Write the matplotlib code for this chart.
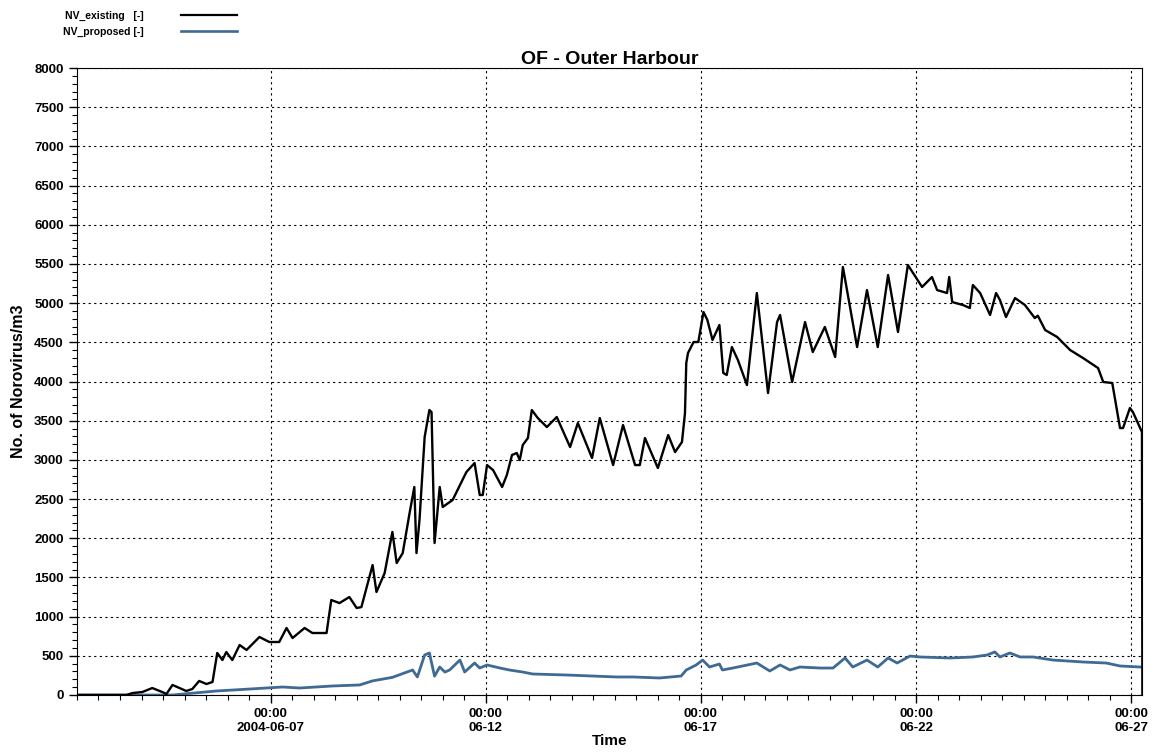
import numpy as np
import pandas as pd
import matplotlib.pyplot as plt
import matplotlib.dates as mdates
from matplotlib.ticker import MultipleLocator
from matplotlib.lines import Line2D

plt.rcParams['font.family'] = ['Liberation Sans', 'DejaVu Sans']
plt.rcParams['font.weight'] = 'bold'

start = pd.Timestamp('2004-06-02 00:00')

# days since 2004-06-02 00:00
existing_day = [0.51, 1.65, 1.79, 2.02, 2.25, 2.48, 2.58, 2.72, 3.04, 3.18, 3.34, 3.51, 3.65,
                3.76, 3.88, 3.97, 4.11, 4.28, 4.44, 4.74, 4.97, 5.20, 5.37, 5.51, 5.79, 5.97,
                6.30, 6.41, 6.60, 6.83, 7.00, 7.11, 7.37, 7.46, 7.65, 7.83, 7.93, 8.07, 8.23,
                8.34, 8.39, 8.46, 8.58, 8.69, 8.74, 8.81, 8.93, 9.00, 9.23, 9.55, 9.74, 9.86,
                9.93, 10.03, 10.17, 10.38, 10.49, 10.61, 10.72, 10.79, 10.86, 10.98, 11.07,
                11.21, 11.42, 11.65, 11.96, 12.14, 12.47, 12.65, 12.96, 13.19, 13.47, 13.58,
                13.70, 14.00, 14.24, 14.40, 14.56, 14.63, 14.66, 14.70, 14.83, 14.94, 15.06,
                15.15, 15.27, 15.43, 15.52, 15.60, 15.72, 15.86, 16.07, 16.30, 16.56, 16.77,
                16.84, 17.12, 17.42, 17.60, 17.88, 18.12, 18.30, 18.63, 18.86, 19.11, 19.35,
                19.58, 19.81, 20.14, 20.37, 20.49, 20.72, 20.77, 20.84, 21.09, 21.25, 21.32,
                21.49, 21.72, 21.86, 21.95, 22.09, 22.30, 22.53, 22.76, 22.83, 23.00, 23.28,
                23.58, 23.88, 24.23, 24.35, 24.56, 24.74, 24.81, 24.97, 25.04, 25.25, 25.26]
existing_val = [0, 0, 25, 38, 89, 38, 13, 128, 51, 76, 179, 140, 166,
                536, 446, 548, 446, 638, 574, 740, 676, 676, 855, 727, 855, 791,
                791, 1212, 1173, 1250, 1110, 1122, 1658, 1314, 1556, 2080, 1684, 1811, 2322,
                2654, 1811, 2233, 3292, 3636, 3610, 1939, 2654, 2399, 2488, 2845, 2960, 2552,
                2552, 2934, 2870, 2654, 2807, 3062, 3088, 2998, 3190, 3279, 3636,
                3534, 3419, 3547, 3164, 3470, 3024, 3534, 2934, 3445, 2934, 2934,
                3279, 2896, 3317, 3100, 3228, 3598, 4236, 4364, 4504, 4504, 4887,
                4785, 4530, 4721, 4109, 4083, 4440, 4274, 3955, 5129, 3853, 4759,
                4849, 3994, 4759, 4376, 4696, 4313, 5461, 4440, 5167, 4440, 5359,
                4632, 5487, 5206, 5333, 5167, 5129, 5333, 5014, 4976, 4938, 5231,
                5129, 4849, 5129, 5040, 4823, 5065, 4976, 4810, 4840, 4657, 4568,
                4402, 4300, 4172, 3994, 3981, 3406, 3406, 3662, 3610, 3355, 0]

proposed_day = [0.51, 2.72, 3.74, 4.51, 5.28, 5.67, 6.44, 7.07, 7.37, 7.83, 8.30, 8.41, 8.58,
                8.69, 8.81, 8.93, 9.05, 9.16, 9.40, 9.51, 9.74, 9.86, 10.03, 10.33, 10.55,
                10.86, 11.09, 11.88, 13.04, 13.42, 14.04, 14.54, 14.66, 14.89, 15.04, 15.20,
                15.43, 15.50, 15.74, 16.30, 16.60, 16.84, 17.07, 17.30, 17.77, 18.07, 18.35,
                18.53, 18.86, 19.11, 19.35, 19.56, 19.86, 20.09, 20.79, 21.32, 21.65, 21.83,
                21.95, 22.18, 22.42, 22.72, 23.18, 23.88, 24.42, 24.74, 25.21]
proposed_val = [0, 0, 51, 76, 102, 89, 115, 128, 180, 225, 319, 230, 510,
                536, 240, 357, 293, 319, 446, 293, 408, 344, 383, 344, 319,
                293, 268, 255, 230, 230, 217, 242, 319, 383, 446, 357,
                395, 319, 344, 408, 306, 383, 319, 357, 344, 344, 472,
                357, 446, 357, 472, 408, 497, 485, 472, 485, 510, 549,
                485, 536, 485, 485, 446, 421, 408, 370, 357]

tick_days = [5, 10, 15, 20, 25]
tick_labels = ['00:00\n2004-06-07', '00:00\n06-12', '00:00\n06-17', '00:00\n06-22', '00:00\n06-27']

t_ex = start + pd.to_timedelta(existing_day, unit='D')
t_pr = start + pd.to_timedelta(proposed_day, unit='D')
ticks = start + pd.to_timedelta(tick_days, unit='D')

fig = plt.figure(figsize=(11.61, 7.56), dpi=100)
ax = fig.add_axes([0.0663, 0.0807, 0.9173, 0.8293])

ax.plot(t_pr, proposed_val, color='#3f6a93', lw=2.0)
ax.plot(t_ex, existing_val, color='black', lw=1.7)

ax.set_xlim(start + pd.Timedelta(hours=12), start + pd.Timedelta(days=25.25))
ax.set_ylim(0, 8000)
ax.set_xticks(ticks)
ax.set_xticklabels(tick_labels, fontsize=9.5, fontweight='bold')
ax.xaxis.set_minor_locator(mdates.HourLocator(byhour=[0, 12]))
ax.yaxis.set_major_locator(MultipleLocator(500))
ax.yaxis.set_minor_locator(MultipleLocator(100))
for lab in ax.get_yticklabels():
    lab.set_fontsize(9.5)
    lab.set_fontweight('bold')
ax.tick_params(which='major', direction='out', length=6, width=1)
ax.tick_params(which='minor', direction='out', length=3.5, width=0.8)

ax.grid(True, which='major', color='black', linestyle=(0, (2, 3)), lw=0.8)

ax.set_title('OF - Outer Harbour', fontsize=14, fontweight='bold', pad=3)
ax.set_ylabel('No. of Norovirus/m3', fontsize=11.5, fontweight='bold', labelpad=6)
ax.set_xlabel('Time', fontsize=11, fontweight='bold', labelpad=0)

handles = [Line2D([], [], color='black', lw=1.6), Line2D([], [], color='#3f6a93', lw=1.9)]
fig.legend(handles, ['NV_existing   [-]', 'NV_proposed [-]'], loc='upper left',
           bbox_to_anchor=(0.045, 1.0), markerfirst=False, frameon=False,
           handlelength=5.3, handletextpad=3.6, labelspacing=0.55, borderpad=0.55,
           prop={'weight': 'bold', 'size': 7.5})

fig.savefig('out.png', dpi=100)
